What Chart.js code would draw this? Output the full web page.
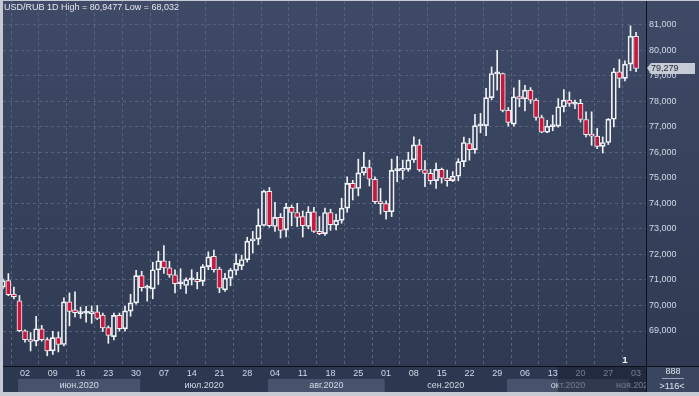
<!DOCTYPE html>
<html>
<head>
<meta charset="utf-8">
<script src="https://cdn.jsdelivr.net/npm/chart.js@4.4.1/dist/chart.umd.min.js"></script>
<style>
  html, body { margin: 0; padding: 0; background: #c5cad3; }
  canvas { display: block; }
</style>
</head>
<body>
<canvas id="chart" width="699" height="396"></canvas>
<script>
'use strict';

// daily USD/RUB candles, 27.05.2020 - 03.11.2020
const dates = [
  '2020-05-27', '2020-05-28', '2020-05-29',
  '2020-06-01', '2020-06-02', '2020-06-03', '2020-06-04', '2020-06-05',
  '2020-06-08', '2020-06-09', '2020-06-10', '2020-06-11', '2020-06-12',
  '2020-06-15', '2020-06-16', '2020-06-17', '2020-06-18', '2020-06-19',
  '2020-06-22', '2020-06-23', '2020-06-24', '2020-06-25', '2020-06-26',
  '2020-06-29', '2020-06-30', '2020-07-01', '2020-07-02', '2020-07-03',
  '2020-07-06', '2020-07-07', '2020-07-08', '2020-07-09', '2020-07-10',
  '2020-07-13', '2020-07-14', '2020-07-15', '2020-07-16', '2020-07-17',
  '2020-07-20', '2020-07-21', '2020-07-22', '2020-07-23', '2020-07-24',
  '2020-07-27', '2020-07-28', '2020-07-29', '2020-07-30', '2020-07-31',
  '2020-08-03', '2020-08-04', '2020-08-05', '2020-08-06', '2020-08-07',
  '2020-08-10', '2020-08-11', '2020-08-12', '2020-08-13', '2020-08-14',
  '2020-08-17', '2020-08-18', '2020-08-19', '2020-08-20', '2020-08-21',
  '2020-08-24', '2020-08-25', '2020-08-26', '2020-08-27', '2020-08-28',
  '2020-08-31', '2020-09-01', '2020-09-02', '2020-09-03', '2020-09-04',
  '2020-09-07', '2020-09-08', '2020-09-09', '2020-09-10', '2020-09-11',
  '2020-09-14', '2020-09-15', '2020-09-16', '2020-09-17', '2020-09-18',
  '2020-09-21', '2020-09-22', '2020-09-23', '2020-09-24', '2020-09-25',
  '2020-09-28', '2020-09-29', '2020-09-30', '2020-10-01', '2020-10-02',
  '2020-10-05', '2020-10-06', '2020-10-07', '2020-10-08', '2020-10-09',
  '2020-10-12', '2020-10-13', '2020-10-14', '2020-10-15', '2020-10-16',
  '2020-10-19', '2020-10-20', '2020-10-21', '2020-10-22', '2020-10-23',
  '2020-10-26', '2020-10-27', '2020-10-28', '2020-10-29', '2020-10-30',
  '2020-11-02', '2020-11-03'
];

const opens = [
  70.72, 70.97, 70.45, 70.18, 69.01, 68.66, 68.60, 69.09, 68.66, 68.22,
  68.74, 68.47, 70.14, 69.83, 69.68, 69.70, 69.68, 69.75, 69.62, 69.13,
  68.78, 69.61, 69.09, 69.78, 70.10, 71.17, 70.68, 70.65, 71.40, 71.75,
  71.47, 71.20, 70.85, 70.78, 71.00, 71.02, 70.94, 71.52, 71.92, 71.42,
  70.61, 71.07, 71.37, 71.55, 71.79, 72.53, 72.60, 73.13, 74.47, 73.09,
  73.45, 72.96, 73.84, 73.64, 73.48, 73.09, 73.67, 72.90, 72.81, 73.64,
  73.14, 73.33, 73.81, 74.78, 74.58, 75.19, 75.40, 74.94, 74.06, 73.99,
  73.67, 75.28, 75.29, 75.33, 75.70, 76.29, 75.31, 75.17, 74.89, 75.33,
  74.99, 74.89, 75.06, 75.63, 76.34, 76.10, 77.03, 77.04, 78.14, 79.07,
  79.08, 77.64, 77.10, 78.18, 78.09, 78.43, 78.04, 77.36, 76.78, 77.00,
  77.02, 77.78, 78.04, 77.88, 77.91, 77.28, 76.69, 76.63, 76.23, 76.38,
  77.29, 79.15, 78.89, 79.45, 80.54
];

const highs = [
  71.05, 71.25, 70.72, 70.39, 69.05, 68.94, 69.57, 69.22, 68.74, 68.99,
  68.96, 70.30, 70.49, 70.53, 69.94, 69.97, 69.98, 70.00, 69.70, 69.20,
  69.70, 69.70, 69.98, 70.44, 71.38, 71.34, 70.80, 71.69, 72.12, 72.34,
  71.73, 71.40, 71.44, 71.08, 71.40, 71.30, 71.60, 72.10, 72.17, 71.50,
  71.26, 71.45, 72.02, 71.97, 72.67, 72.90, 73.78, 74.52, 74.62, 74.04,
  73.60, 74.00, 73.93, 74.00, 73.70, 73.87, 73.84, 73.48, 73.81, 73.77,
  73.58, 74.20, 75.04, 74.90, 75.73, 76.00, 75.69, 75.04, 74.58, 74.10,
  75.73, 75.84, 75.69, 76.00, 76.60, 76.50, 75.67, 75.33, 75.57, 75.38,
  75.30, 75.24, 75.75, 76.59, 76.54, 77.48, 77.52, 78.50, 79.34, 79.99,
  79.10, 77.75, 78.52, 78.82, 78.62, 78.53, 78.10, 77.45, 77.25, 77.45,
  78.10, 78.45, 78.36, 78.04, 78.07, 77.58, 77.58, 76.93, 76.60, 77.32,
  79.28, 79.63, 79.58, 80.95, 80.69
];

const lows = [
  70.65, 70.38, 70.26, 68.97, 68.56, 68.22, 68.42, 68.60, 68.03, 68.08,
  68.18, 68.42, 69.20, 69.55, 69.50, 69.35, 69.30, 69.45, 68.98, 68.52,
  68.65, 69.00, 69.00, 69.58, 70.05, 70.56, 70.17, 70.26, 70.82, 71.25,
  71.10, 70.49, 70.65, 70.47, 70.80, 70.65, 70.78, 71.40, 71.30, 70.50,
  70.55, 70.77, 71.20, 71.40, 71.70, 72.05, 72.38, 73.10, 73.06, 72.90,
  72.64, 72.68, 73.12, 73.09, 72.68, 73.00, 72.86, 72.77, 72.74, 72.94,
  72.96, 73.22, 73.65, 74.13, 74.29, 75.10, 74.68, 73.99, 73.58, 73.38,
  73.48, 74.84, 74.94, 75.25, 75.60, 75.25, 74.65, 74.75, 74.58, 74.79,
  74.67, 74.85, 74.88, 75.43, 75.69, 75.95, 76.76, 76.65, 78.05, 78.43,
  77.58, 77.02, 77.02, 77.78, 77.62, 77.91, 77.25, 76.76, 76.76, 76.84,
  76.98, 77.58, 77.80, 77.70, 77.18, 76.60, 76.27, 76.14, 75.97, 76.30,
  76.99, 78.53, 78.79, 79.19, 79.15
];

const closes = [
  70.97, 70.42, 70.34, 69.01, 68.66, 68.59, 69.09, 68.66, 68.22, 68.74,
  68.47, 70.14, 69.77, 69.72, 69.70, 69.71, 69.75, 69.49, 69.12, 68.83,
  69.61, 69.09, 69.79, 70.10, 71.17, 70.70, 70.72, 71.40, 71.75, 71.47,
  71.20, 70.85, 70.86, 71.01, 71.02, 70.93, 71.52, 71.90, 71.40, 70.68,
  71.07, 71.39, 71.65, 71.80, 72.52, 72.60, 73.14, 74.47, 73.12, 73.45,
  72.94, 73.84, 73.64, 73.45, 73.12, 73.67, 72.90, 72.81, 73.64, 73.16,
  73.33, 73.81, 74.78, 74.58, 75.19, 75.43, 74.94, 74.06, 73.99, 73.67,
  75.29, 75.30, 75.36, 75.70, 76.29, 75.31, 75.17, 74.89, 75.33, 74.98,
  74.89, 75.06, 75.63, 76.38, 76.10, 77.04, 77.06, 78.14, 79.08, 79.09,
  77.64, 77.17, 78.17, 78.09, 78.43, 78.04, 77.36, 76.78, 77.02, 77.03,
  77.78, 78.04, 77.91, 77.91, 77.28, 76.69, 76.63, 76.23, 76.38, 77.29,
  79.15, 78.89, 79.45, 80.54, 79.279
];

// weekly date labels on the time axis (Tuesdays)
const tickDays = [
  '2020-06-02', '2020-06-09', '2020-06-16', '2020-06-23', '2020-06-30',
  '2020-07-07', '2020-07-14', '2020-07-21', '2020-07-28', '2020-08-04',
  '2020-08-11', '2020-08-18', '2020-08-25', '2020-09-01', '2020-09-08',
  '2020-09-15', '2020-09-22', '2020-09-29', '2020-10-06', '2020-10-13',
  '2020-10-20', '2020-10-27', '2020-11-03'
];
const yTicks = [69, 70, 71, 72, 73, 74, 75, 76, 77, 78, 79, 80, 81];
const monthNames = {
  '06': 'июн.2020', '07': 'июл.2020', '08': 'авг.2020',
  '09': 'сен.2020', '10': 'окт.2020', '11': 'ноя.2020'
};
const title = 'USD/RUB 1D High = 80,9477 Low = 68,032';
const counterTop = '888';
const counterBottom = '>116<';

const FONT = 'Arial, "Liberation Sans", sans-serif';
const TXT = '#d2d9e6';
const GRID = '#56637f';
const RED = '#c8173b';
const EDGE = '#f0f2f6';

const fmt = v => v.toFixed(3).replace('.', ',');

// month segments for the second row of the time axis
const months = [];
dates.forEach((d, i) => {
  const m = d.slice(5, 7);
  const last = months[months.length - 1];
  if (last && last.m === m) last.end = i;
  else months.push({ m, start: i, end: i });
});

const panel = {
  id: 'panel',
  beforeDraw(chart) {
    const { ctx, width, chartArea: a } = chart;
    const xs = chart.scales.x;
    const axisBottom = 392;
    ctx.save();
    const g = ctx.createLinearGradient(0, 1, 0, a.bottom);
    g.addColorStop(0, '#3e4a66');
    g.addColorStop(1, '#2f3a52');
    ctx.fillStyle = g;
    ctx.fillRect(a.left, 1, width - a.left, a.bottom - 1);
    ctx.fillStyle = '#2c3750';
    ctx.fillRect(a.left, a.bottom, a.right - a.left, axisBottom - a.bottom);
    ctx.fillStyle = '#3a4560';
    ctx.fillRect(a.right, a.bottom, width - a.right, axisBottom - a.bottom);

    // month bands + names
    ctx.beginPath();
    ctx.rect(a.left, a.bottom, a.right - a.left, axisBottom - a.bottom);
    ctx.clip();
    ctx.font = '9px ' + FONT;
    ctx.textAlign = 'center';
    ctx.textBaseline = 'middle';
    let k = 0;
    months.forEach(seg => {
      if (!monthNames[seg.m]) return;
      const x0 = Math.max(a.left, xs.getPixelForValue(seg.start - 0.25));
      const x1 = Math.min(a.right, xs.getPixelForValue(seg.end + 0.75));
      if (k % 2 === 0) {
        ctx.fillStyle = '#47536d';
        ctx.fillRect(x0, 379, x1 - x0, axisBottom - 379);
      }
      ctx.fillStyle = TXT;
      ctx.fillText(monthNames[seg.m], (x0 + x1) / 2, 385.5);
      k++;
    });
    ctx.restore();
  },
  afterDraw(chart) {
    const { ctx, width, chartArea: a } = chart;
    const ys = chart.scales.y;
    ctx.save();

    // dimmed panel over the last labels
    ctx.fillStyle = 'rgba(24, 30, 46, 0.5)';
    ctx.fillRect(558, a.bottom, a.right - 558, 392 - a.bottom);

    ctx.strokeStyle = '#0c1019';
    ctx.lineWidth = 1;
    ctx.beginPath();
    ctx.moveTo(a.right + 0.5, 1);
    ctx.lineTo(a.right + 0.5, 392);
    ctx.moveTo(a.left, a.bottom + 0.5);
    ctx.lineTo(width, a.bottom + 0.5);
    ctx.stroke();

    ctx.font = '9px ' + FONT;
    ctx.textBaseline = 'middle';

    // last price tag
    const last = closes[closes.length - 1];
    const py = Math.round(ys.getPixelForValue(last));
    ctx.fillStyle = '#c6cbd4';
    ctx.beginPath();
    ctx.moveTo(a.right + 1, py);
    ctx.lineTo(a.right + 5, py - 5);
    ctx.lineTo(695, py - 5);
    ctx.lineTo(695, py + 6);
    ctx.lineTo(a.right + 5, py + 6);
    ctx.closePath();
    ctx.fill();
    ctx.fillStyle = '#1f2533';
    ctx.textAlign = 'left';
    ctx.fillText(fmt(last), 651, py + 0.5);

    // title
    ctx.fillStyle = '#e6e9f0';
    ctx.fillText(title, 4, 8);

    // bar counter box
    ctx.fillStyle = '#dfe4ee';
    ctx.textAlign = 'center';
    ctx.fillText(counterTop, 673, 372);
    ctx.fillText(counterBottom, 672, 386.5);
    ctx.strokeStyle = '#9aa4b8';
    ctx.beginPath();
    ctx.moveTo(662, 378.5);
    ctx.lineTo(684, 378.5);
    ctx.stroke();

    ctx.font = 'bold 9px ' + FONT;
    ctx.fillStyle = '#ffffff';
    ctx.fillText('1', 625, 360.5);
    ctx.restore();
  }
};

const upperWick = dates.map((d, i) => ({ x: i, y: [Math.max(opens[i], closes[i]), highs[i]] }));
const lowerWick = dates.map((d, i) => ({ x: i, y: [lows[i], Math.min(opens[i], closes[i])] }));
const bodies = dates.map((d, i) => ({ x: i, y: [opens[i], closes[i]] }));

new Chart(document.getElementById('chart'), {
  type: 'bar',
  data: {
    datasets: [
      { data: upperWick, backgroundColor: EDGE, barThickness: 1, grouped: false, order: 3 },
      { data: lowerWick, backgroundColor: EDGE, barThickness: 1, grouped: false, order: 2 },
      {
        data: bodies,
        backgroundColor: dates.map((d, i) => closes[i] < opens[i] ? RED : 'rgba(0,0,0,0)'),
        borderColor: EDGE,
        borderWidth: 1,
        borderSkipped: false,
        barThickness: 5,
        minBarLength: 2,
        grouped: false,
        order: 1
      }
    ]
  },
  options: {
    responsive: false,
    animation: false,
    devicePixelRatio: 1,
    events: [],
    layout: { padding: { left: 3, top: 1, right: 0, bottom: 4 } },
    plugins: { legend: { display: false }, tooltip: { enabled: false } },
    scales: {
      x: {
        type: 'linear',
        position: 'bottom',
        min: 0.036,
        max: 115.79,
        offset: false,
        afterBuildTicks: s => { s.ticks = tickDays.map(d => ({ value: dates.indexOf(d) })); },
        afterFit: s => { s.height = 26; s.paddingLeft = 0; s.paddingRight = 0; },
        ticks: {
          autoSkip: false,
          maxRotation: 0,
          padding: 2,
          color: TXT,
          font: { family: FONT, size: 9 },
          callback: v => dates[v].slice(8)
        },
        grid: { color: GRID, drawTicks: false },
        border: { display: false, dash: [3, 3] }
      },
      y: {
        type: 'linear',
        position: 'right',
        min: 67.63,
        max: 81.92,
        afterBuildTicks: s => { s.ticks = yTicks.map(v => ({ value: v })); },
        afterFit: s => { s.width = 53; s.paddingTop = 0; s.paddingBottom = 0; },
        ticks: {
          padding: 3,
          color: TXT,
          font: { family: FONT, size: 9 },
          callback: v => fmt(v)
        },
        grid: { color: GRID, drawTicks: false },
        border: { display: false, dash: [3, 3] }
      }
    }
  },
  plugins: [panel]
});
</script>
</body>
</html>
